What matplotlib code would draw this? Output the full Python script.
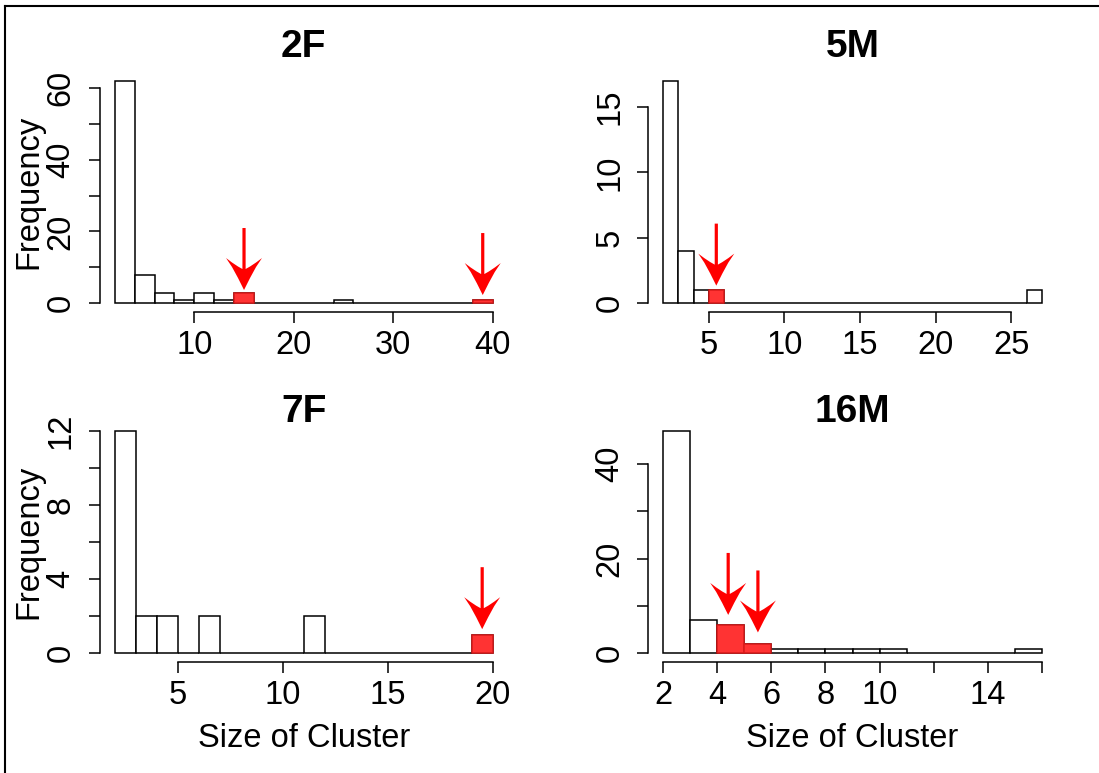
import matplotlib
matplotlib.use("Agg")
import matplotlib.pyplot as plt
from matplotlib.patches import Polygon
from matplotlib.lines import Line2D
import matplotlib.transforms as mtransforms

plt.rcParams['font.family'] = ['Liberation Sans', 'DejaVu Sans']

# ---------------- data ----------------
titles = ["2F", "5M", "7F", "16M"]

edges_2F = list(range(2, 41, 2))
counts_2F = [62, 8, 3, 1, 3, 1, 3, 0, 0, 0, 0, 1, 0, 0, 0, 0, 0, 0, 1]
red_left_2F = [14, 38]
red_counts_2F = [3, 1]
arrow_x_2F = [15, 39]
arrow_tip_2F = [3.7, 2.3]

edges_5M = list(range(2, 28))
counts_5M = [17, 4, 1, 1] + [0] * 20 + [1]
red_left_5M = [5]
red_counts_5M = [1]
arrow_x_5M = [5.5]
arrow_tip_5M = [1.35]

edges_7F = list(range(2, 21))
counts_7F = [12, 2, 2, 0, 2, 0, 0, 0, 0, 2, 0, 0, 0, 0, 0, 0, 0, 1]
red_left_7F = [19]
red_counts_7F = [1]
arrow_x_7F = [19.5]
arrow_tip_7F = [1.3]

edges_16M = list(range(2, 17))
counts_16M = [47, 7, 6, 2, 1, 1, 1, 1, 1, 0, 0, 0, 0, 1]
red_left_16M = [4, 5]
red_counts_16M = [6, 2]
arrow_x_16M = [4.4, 5.5]
arrow_tip_16M = [8.1, 4.4]

xticks_2F = [10, 20, 30, 40]
xlabels_2F = ["10", "20", "30", "40"]
yticks_2F = [0, 10, 20, 30, 40, 50, 60]
ylabels_2F = ["0", "", "20", "", "40", "", "60"]

xticks_5M = [5, 10, 15, 20, 25]
xlabels_5M = ["5", "10", "15", "20", "25"]
yticks_5M = [0, 5, 10, 15]
ylabels_5M = ["0", "5", "10", "15"]

xticks_7F = [5, 10, 15, 20]
xlabels_7F = ["5", "10", "15", "20"]
yticks_7F = [0, 2, 4, 6, 8, 10, 12]
ylabels_7F = ["0", "", "4", "", "8", "", "12"]

xticks_16M = [2, 4, 6, 8, 10, 12, 14, 16]
xlabels_16M = ["2", "4", "6", "8", "10", "", "14", ""]
yticks_16M = [0, 10, 20, 30, 40]
ylabels_16M = ["0", "", "20", "", "40"]

# ---------------- figure ----------------
W, H = 1099, 773
fig = plt.figure(figsize=(W / 100, H / 100), dpi=100)

def px_axes(l, r, t, b):
    return [l / W, 1 - b / H, (r - l) / W, (b - t) / H]

positions = [
    px_axes(99.6, 507.8, 71.8, 312.2),
    px_axes(648.2, 1056.8, 71.8, 312.2),
    px_axes(99.6, 507.8, 421.8, 662.2),
    px_axes(648.2, 1056.8, 421.8, 662.2),
]

panels = [
    (edges_2F, counts_2F, red_left_2F, red_counts_2F, arrow_x_2F, arrow_tip_2F,
     xticks_2F, xlabels_2F, yticks_2F, ylabels_2F),
    (edges_5M, counts_5M, red_left_5M, red_counts_5M, arrow_x_5M, arrow_tip_5M,
     xticks_5M, xlabels_5M, yticks_5M, ylabels_5M),
    (edges_7F, counts_7F, red_left_7F, red_counts_7F, arrow_x_7F, arrow_tip_7F,
     xticks_7F, xlabels_7F, yticks_7F, ylabels_7F),
    (edges_16M, counts_16M, red_left_16M, red_counts_16M, arrow_x_16M, arrow_tip_16M,
     xticks_16M, xlabels_16M, yticks_16M, ylabels_16M),
]

title_y = [1.063, 1.063, 0.998, 0.998]
LW = 1.1
FS = 23.5

# arrow shape in pixel offsets (tip at origin, y up)
half = [(0, 0), (6, 12), (12, 23), (18, 32), (12, 27.5), (6, 23.5), (1.6, 21),
        (1.6, 62)]
arrow_shape = half + [(-x, y) for (x, y) in reversed(half)]

for i, (ax_pos, panel) in enumerate(zip(positions, panels)):
    (edges, counts, rleft, rcounts, ax_x, ax_tip, xt, xl, yt, yl) = panel
    ax = fig.add_axes(ax_pos)
    bw = edges[1] - edges[0]
    ax.bar(edges[:-1], counts, width=bw, align='edge', facecolor='white',
           edgecolor='black', linewidth=LW, zorder=2)
    ax.bar(rleft, rcounts, width=bw, align='edge', facecolor=(1, 0.2, 0.2),
           edgecolor=(0.85, 0.1, 0.1), linewidth=LW, zorder=3)

    lo, hi = edges[0], edges[-1]
    ymax = max(counts)
    ax.set_xlim(lo - 0.04 * (hi - lo), hi + 0.04 * (hi - lo))
    ax.set_ylim(-0.04 * ymax, ymax * 1.04)

    for s in ['top', 'right']:
        ax.spines[s].set_visible(False)
    for s in ['left', 'bottom']:
        ax.spines[s].set_linewidth(LW)
    ax.spines['left'].set_bounds(yt[0], yt[-1])
    ax.spines['bottom'].set_bounds(xt[0], xt[-1])

    ax.set_xticks(xt)
    ax.set_xticklabels(xl)
    ax.set_yticks(yt)
    ax.set_yticklabels(yl)
    ax.tick_params(axis='both', length=8, width=LW, labelsize=FS, direction='out')
    ax.tick_params(axis='x', pad=4.5)
    ax.tick_params(axis='y', pad=8.5, labelrotation=90)
    for lab in ax.get_yticklabels():
        lab.set_va('center')

    ax.text(0.5, title_y[i], titles[i], transform=ax.transAxes, ha='center',
            va='baseline', fontsize=28, fontweight='bold')

    if i in (0, 2):
        ax.text(-0.153, 0.5, "Frequency", transform=ax.transAxes, rotation=90,
                rotation_mode='anchor', ha='center', va='baseline', fontsize=FS)
    if i in (2, 3):
        ax.text(0.5, -0.354, "Size of Cluster", transform=ax.transAxes,
                ha='center', va='baseline', fontsize=FS)

    for x, ytip in zip(ax_x, ax_tip):
        tr = mtransforms.ScaledTranslation(x, ytip, ax.transData)
        poly = Polygon(arrow_shape, closed=True, transform=tr,
                       facecolor='#ff0000', edgecolor='none', zorder=5,
                       clip_on=False)
        ax.add_patch(poly)

# outer border (cropped at right/bottom)
fig.add_artist(Line2D([5 / W, 5 / W], [1 - 6 / H, 0], transform=fig.transFigure,
                      color='black', linewidth=1.5))
fig.add_artist(Line2D([5 / W, 1], [1 - 6 / H, 1 - 6 / H], transform=fig.transFigure,
                      color='black', linewidth=1.5))

fig.savefig("out.png", dpi=100)
